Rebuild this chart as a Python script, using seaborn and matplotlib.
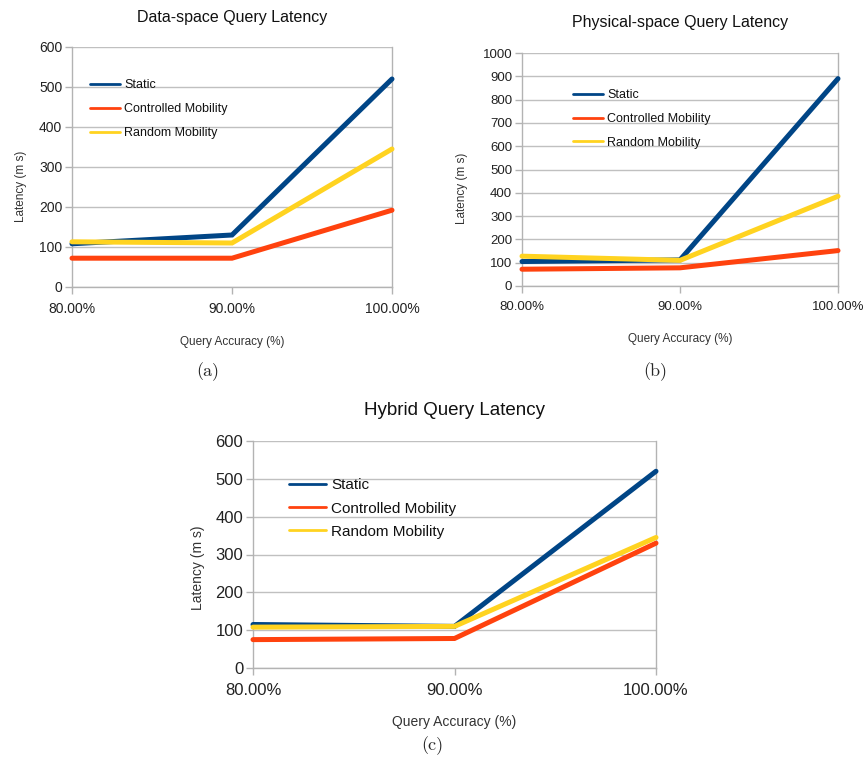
import matplotlib
matplotlib.use("Agg")
import matplotlib.pyplot as plt
import seaborn as sns
import pandas as pd

# Query accuracy levels (%) and series names
accuracy = [80, 90, 100]
accuracy_labels = ["80.00%", "90.00%", "100.00%"]
series_names = ["Static", "Controlled Mobility", "Random Mobility"]

# Latency (ms) per query type
data_space_static = [108, 130, 520]
data_space_controlled = [72, 72, 192]
data_space_random = [113, 110, 345]

physical_static = [105, 112, 890]
physical_controlled = [72, 78, 152]
physical_random = [128, 110, 385]

hybrid_static = [115, 110, 520]
hybrid_controlled = [75, 78, 330]
hybrid_random = [108, 110, 345]

palette = {"Static": "#004586", "Controlled Mobility": "#ff420e",
           "Random Mobility": "#ffd320"}

sns.set_theme(style="white")
plt.rcParams["font.family"] = ["Liberation Sans", "DejaVu Sans"]

fig = plt.figure(figsize=(8.65, 7.67), dpi=100)


def frame(values):
    rows = []
    for name, vals in zip(series_names, values):
        for a, v in zip(accuracy, vals):
            rows.append({"acc": a, "lat": v, "series": name})
    return pd.DataFrame(rows)


def panel(rect, values, title, ymax, ystep, fs_tick, fs_title, fs_leg, fs_lab,
          leg_xy, leg_spacing, title_pad, ylab_xy, xlab_pad, xtick_pad):
    ax = fig.add_axes(rect)
    df = frame(values)
    sns.lineplot(data=df, x="acc", y="lat", hue="series", hue_order=series_names,
                 palette=palette, linewidth=3.6, ax=ax, legend=True)
    for ln in ax.get_lines():
        ln.set_clip_on(False)
        ln.set_zorder(3)
        ln.set_solid_joinstyle("miter")
    ax.set_xlim(80, 100)
    ax.set_ylim(0, ymax)
    ax.set_yticks(range(0, ymax + 1, ystep))
    ax.set_xticks(accuracy)
    ax.set_xticklabels(accuracy_labels)
    ax.grid(axis="y", color="#c0c0c0", linewidth=1.0)
    for side in ["left", "right", "bottom"]:
        ax.spines[side].set_color("#b3b3b3")
        ax.spines[side].set_linewidth(1.0)
    ax.spines["top"].set_visible(False)
    ax.tick_params(axis="both", which="major", length=5, width=1.0,
                   color="#b3b3b3", labelsize=fs_tick, labelcolor="#222222",
                   direction="out", left=True, bottom=True)
    ax.tick_params(axis="x", pad=xtick_pad)
    ax.tick_params(axis="y", pad=2)
    ax.set_title(title, fontsize=fs_title, pad=title_pad, color="#111111")
    ax.set_xlabel("Query Accuracy (%)", fontsize=fs_lab, color="#333333",
                  labelpad=xlab_pad)
    ax.set_ylabel("Latency (m s)", fontsize=fs_lab, color="#333333")
    ax.yaxis.set_label_coords(*ylab_xy)
    handles, labels = ax.get_legend_handles_labels()
    leg = ax.legend(handles, labels, loc="upper left", bbox_to_anchor=leg_xy,
                    frameon=False, fontsize=fs_leg, handlelength=2.4,
                    handletextpad=0.35, labelspacing=leg_spacing, borderpad=0,
                    borderaxespad=0)
    for h in leg.get_lines():
        h.set_linewidth(2.0)
    for t in leg.get_texts():
        t.set_color("#111111")
    return ax


panel([72 / 865, 1 - 287 / 767, 320 / 865, 240 / 767],
      [data_space_static, data_space_controlled, data_space_random],
      "Data-space Query Latency", 600, 100, 10, 11.5, 9, 8.5,
      (0.055, 0.865), 0.95, 18, (-0.14, 0.42), 14, 6)

panel([522 / 865, 1 - 286 / 767, 316 / 865, 233 / 767],
      [physical_static, physical_controlled, physical_random],
      "Physical-space Query Latency", 1000, 100, 9.5, 11.5, 9, 8.5,
      (0.16, 0.845), 0.95, 19, (-0.17, 0.42), 14, 6)

panel([253 / 865, 1 - 668 / 767, 403 / 865, 227 / 767],
      [hybrid_static, hybrid_controlled, hybrid_random],
      "Hybrid Query Latency", 600, 100, 12, 13.5, 11, 10,
      (0.09, 0.835), 0.6, 19, (-0.12, 0.44), 12, 6)

cap_font = ["cmr10", "DejaVu Serif"]
fig.text(208 / 865, 1 - 372 / 767, "(a)", fontsize=13, family=cap_font,
         ha="center", va="center")
fig.text(655 / 865, 1 - 372 / 767, "(b)", fontsize=13, family=cap_font,
         ha="center", va="center")
fig.text(432 / 865, 1 - 746 / 767, "(c)", fontsize=13, family=cap_font,
         ha="center", va="center")

fig.savefig("out.png", dpi=100)
